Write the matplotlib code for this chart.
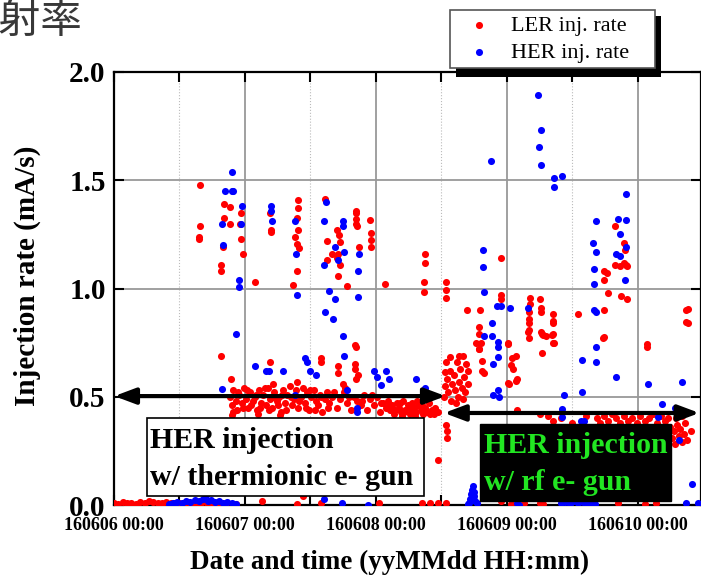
import datetime
import numpy as np
import matplotlib
matplotlib.use("Agg")
import matplotlib.pyplot as plt
import matplotlib.dates as mdates
from matplotlib.patches import Rectangle

plt.rcParams['font.family'] = ['Liberation Serif', 'DejaVu Serif']

# hours after 2016-06-06 00:00, injection rate in mA/s
ler_h = [0.0, 0.8, 1.6, 2.4, 3.2, 4.0, 4.8, 5.6, 6.4, 7.2, 8.0, 8.8, 9.6, 10.4, 11.2, 12.0,
         12.8, 13.6, 14.4, 15.2, 16.0, 17.0, 18.0, 19.0, 20.5,
         22.4, 27.1, 33.5, 34.7, 38.0, 48.5, 56.5, 58.0, 59.3, 60.8, 70.9, 72.7, 75.1, 78.0,
         78.6, 92.3, 97.3, 99.3,
         15.8, 15.7, 15.6, 15.6, 20.2, 21.3, 20.2, 21.3, 23.2, 23.1, 20.0, 23.3, 23.6, 19.7,
         19.7, 25.8, 28.6, 28.8, 28.8, 33.8, 33.8, 33.5, 33.8, 33.2, 33.6, 33.9, 33.6, 32.8,
         38.7, 39.0, 40.9, 41.3, 41.4, 39.9, 41.0, 40.9, 39.1, 41.4, 41.1, 42.7,
         44.3, 44.4, 44.3, 44.4, 44.5, 47.0, 47.1, 47.1, 47.1, 44.9, 49.7,
         19.7, 21.4, 28.6, 29.2, 33.6, 37.9, 37.9, 41.1, 41.1, 44.2, 44.2, 44.8, 44.3, 44.2,
         42.0, 42.3, 44.3, 21.6,
         57.0, 57.0, 56.9, 56.9, 60.9, 60.9, 60.9, 64.7, 67.1, 71.0, 71.0, 71.0, 66.9, 66.9,
         67.2, 66.9, 72.2, 72.3, 73.7, 73.0, 72.7, 73.1, 73.8, 72.4, 72.3, 76.2, 76.2, 78.0,
         78.2, 78.2, 76.0, 76.0, 76.0, 76.0, 76.0, 78.2, 78.6, 78.5, 80.5, 80.5, 80.5, 80.5,
         80.5, 85.1, 89.8, 89.8, 90.6, 89.9, 90.4, 89.9, 91.8, 93.5, 93.7, 93.4, 93.9, 91.9,
         92.8, 94.1, 93.0, 94.0, 97.7, 97.7, 104.9, 105.3, 104.9, 105.2,
         66.4, 66.9, 67.5, 67.5, 67.9, 73.7, 73.8, 75.9, 78.5, 79.1, 80.3, 80.7, 89.6, 78.0,
         # main band 160607-160608
         21.3, 21.6, 21.9, 22.3, 22.6, 23.0, 23.4, 23.8, 24.2, 24.6, 25.0, 25.4, 25.8, 26.2,
         26.6, 27.0, 27.4, 27.8, 28.2, 28.6, 29.0, 29.4, 29.8, 30.2, 30.6, 31.0, 31.4, 31.8,
         32.2, 32.6, 33.0, 33.4, 33.8, 34.2, 34.6, 35.0, 35.4, 35.8, 36.2, 36.6, 37.0, 37.4,
         37.8, 38.2, 38.6, 39.0, 39.4, 40.0, 40.8, 41.5, 42.2, 42.8, 43.4, 44.0, 44.6, 45.2,
         45.8, 46.4, 47.0, 47.6, 48.2, 48.8, 49.3, 49.8, 50.2, 50.6, 51.0, 51.4, 51.8, 52.2,
         52.6, 53.0, 53.4, 53.8, 54.2, 54.6, 55.0, 55.4, 55.8, 56.2, 56.6, 57.0, 57.4, 57.8,
         58.2, 58.6,
         21.8, 22.8, 23.6, 24.4, 25.2, 26.0, 26.8, 27.6, 28.4, 29.2, 30.0, 30.8, 31.6, 32.4,
         34.0, 35.2, 36.0, 36.8, 38.0, 39.2, 40.4, 43.0, 45.5, 47.3, 49.0, 50.4, 51.6, 52.4,
         53.2, 54.0, 54.8, 55.6, 56.4, 57.2, 58.0, 58.8, 59.4, 52.8, 55.2, 30.4, 26.4,
         # cluster around 160608 12:00
         60.4, 60.7, 61.0, 61.2, 61.5, 61.8, 62.0, 62.3, 62.5, 62.8, 63.0, 63.3, 63.5, 63.8,
         64.0, 64.2, 64.4, 64.6, 64.8, 60.9, 61.6, 63.3, 60.7, 64.9, 62.6, 63.9,
         60.8, 61.1, 61.1, 59.3,
         # band 160609 12:00 - 160610 12:00
         79.5, 80.5, 82.0, 84.0, 86.5, 88.5, 89.0, 89.8, 90.5, 91.3, 92.0, 92.8, 93.5, 94.2,
         95.0, 95.8, 96.5, 97.3, 98.0, 98.8, 99.5, 100.2, 101.0, 101.6,
         102.0, 102.3, 102.6, 102.9, 103.2, 103.5, 103.8, 104.1, 104.4, 104.7, 105.0, 105.7,
         103.0, 104.2]
ler_v = [0.010, 0.005, 0.012, 0.008, 0.010, 0.006, 0.015, 0.010, 0.020, 0.012, 0.008, 0.010,
         0.014, 0.009, 0.011, 0.007, 0.010, 0.012, 0.006, 0.010, 0.008, 0.010, 0.005, 0.008,
         0.010,
         0.005, 0.020, 0.005, 0.040, 0.010, 0.010, 0.010, 0.010, 0.010, 0.010, 0.020, 0.005,
         0.010, 0.010, 0.005, 0.010, 0.005, 0.010,
         1.48, 1.29, 1.24, 1.23, 1.39, 1.375, 1.325, 1.30, 1.35, 1.30, 1.19, 1.23, 1.16, 1.11,
         1.08, 1.03, 1.35, 1.27, 1.26, 1.41, 1.37, 1.325, 1.27, 1.24, 1.205, 1.185, 1.08, 1.016,
         1.415, 1.22, 1.27, 1.245, 1.215, 1.16, 1.16, 1.14, 1.13, 1.11, 1.06, 1.01,
         1.36, 1.35, 1.32, 1.30, 1.29, 1.315, 1.255, 1.225, 1.19, 1.19, 1.02,
         0.69, 0.58, 0.66, 0.56, 0.57, 0.68, 0.66, 0.64, 0.61, 0.65, 0.63, 0.60, 0.73, 0.74,
         0.56, 0.54, 0.58, 0.415,
         1.16, 1.12, 1.03, 0.985, 1.03, 0.995, 0.955, 0.90, 0.90, 1.14, 0.97, 0.95, 0.82, 0.79,
         0.75, 0.72, 0.75, 0.745, 0.69, 0.68, 0.645, 0.63, 0.58, 0.56, 0.565, 0.955, 0.93, 0.95,
         0.91, 0.89, 0.89, 0.86, 0.84, 0.81, 0.77, 0.80, 0.785, 0.70, 0.88, 0.85, 0.84, 0.79,
         0.75, 0.88, 0.90, 0.775, 0.98, 1.08, 1.07, 1.04, 1.29, 1.21, 1.18, 1.12, 1.11, 1.11,
         1.105, 1.105, 0.965, 0.95, 0.745, 0.73, 0.90, 0.905, 0.845, 0.84,
         0.75, 0.72, 0.665, 0.62, 0.61, 0.575, 0.44, 0.80, 0.79, 0.78, 0.785, 0.75, 0.77, 0.42,
         0.50, 0.46, 0.53, 0.48, 0.44, 0.51, 0.47, 0.54, 0.49, 0.45, 0.52, 0.48, 0.50, 0.44,
         0.53, 0.47, 0.51, 0.46, 0.54, 0.49, 0.45, 0.52, 0.48, 0.50, 0.43, 0.53, 0.47, 0.51,
         0.55, 0.46, 0.49, 0.53, 0.45, 0.50, 0.54, 0.47, 0.52, 0.44, 0.50, 0.53, 0.48, 0.46,
         0.51, 0.43, 0.49, 0.52, 0.47, 0.50, 0.45, 0.49, 0.52, 0.47, 0.44, 0.50, 0.48, 0.46,
         0.51, 0.44, 0.49, 0.46, 0.50, 0.43, 0.47, 0.45, 0.48, 0.44, 0.46, 0.42, 0.47, 0.45,
         0.43, 0.48, 0.44, 0.46, 0.42, 0.47, 0.45, 0.43, 0.46, 0.44, 0.42, 0.45, 0.43, 0.47,
         0.44, 0.42,
         0.43, 0.52, 0.45, 0.53, 0.46, 0.51, 0.45, 0.54, 0.44, 0.50, 0.46, 0.51, 0.44, 0.50,
         0.48, 0.45, 0.53, 0.44, 0.50, 0.45, 0.52, 0.50, 0.48, 0.51, 0.47, 0.46, 0.44, 0.47,
         0.43, 0.45, 0.43, 0.48, 0.46, 0.44, 0.42, 0.45, 0.43, 0.41, 0.41, 0.415, 0.42,
         0.50, 0.55, 0.58, 0.52, 0.62, 0.48, 0.56, 0.60, 0.53, 0.66, 0.50, 0.57, 0.63, 0.54,
         0.69, 0.59, 0.52, 0.65, 0.56, 0.66, 0.685, 0.69, 0.615, 0.62, 0.47, 0.49,
         0.37, 0.34, 0.31, 0.21,
         0.41, 0.39, 0.40, 0.38, 0.41, 0.40, 0.38, 0.41, 0.39, 0.42, 0.40, 0.38, 0.41, 0.39,
         0.40, 0.38, 0.41, 0.39, 0.40, 0.42, 0.38, 0.41, 0.39, 0.40,
         0.36, 0.31, 0.34, 0.28, 0.37, 0.32, 0.35, 0.29, 0.33, 0.38, 0.30, 0.34,
         0.40, 0.41]

her_h = [10.0, 10.8, 11.6, 12.4, 13.2, 14.0, 14.8, 15.6, 16.3, 16.8, 16.8, 17.2, 17.8, 18.5,
         19.2, 20.0, 20.8, 21.6, 22.4,
         38.5, 41.8, 46.6, 73.9, 74.2,
         64.8, 65.0, 65.3, 65.5, 65.6, 65.8, 65.9, 66.0, 66.2, 66.5,
         81.9, 82.7, 83.5, 84.3, 85.1, 85.9, 86.7, 87.5, 88.1, 104.9, 107.1, 105.9,
         21.7, 20.3, 21.7, 21.9, 23.4, 19.8, 23.2, 20.0, 23.0, 23.0, 22.4,
         28.7, 28.7, 29.0, 33.2, 33.3, 33.5,
         38.8, 38.5, 42.0, 42.0, 40.6, 42.2, 41.0, 38.5, 44.9, 44.8, 39.5, 40.6, 44.7, 38.6,
         40.1, 41.9, 42.2,
         25.8, 27.8, 28.5, 30.9, 35.1, 35.4, 35.9, 37.1, 47.6, 49.8, 48.2, 50.4, 48.9, 19.8,
         42.7, 33.2, 44.6, 44.6, 55.3, 57.0,
         77.8, 78.2, 77.9, 78.2, 80.6, 82.1, 80.6, 69.1, 93.8, 92.3, 93.9, 88.4, 92.8, 87.8,
         88.4, 93.8, 92.0, 92.8, 88.0, 87.9, 93.7, 67.7, 67.7, 67.8, 70.2, 71.0, 72.5, 75.9,
         87.9, 88.3, 69.3, 67.8, 69.3, 70.4, 70.4, 70.3, 69.4, 88.3, 88.3, 85.7, 92.0, 97.9,
         104.1,
         69.4, 70.4, 70.5, 82.4, 82.1, 82.2, 85.7, 85.6, 86.2, 99.7, 100.4, 102.8, 103.5]
her_v = [0.005, 0.010, 0.015, 0.010, 0.020, 0.015, 0.025, 0.020, 0.030, 0.045, 0.060, 0.020,
         0.025, 0.015, 0.020, 0.010, 0.015, 0.008, 0.005,
         0.030, 0.010, 0.000, 0.010, 0.000,
         0.005, 0.010, 0.030, 0.050, 0.070, 0.090, 0.060, 0.040, 0.020, 0.010,
         0.010, 0.015, 0.005, 0.020, 0.010, 0.015, 0.005, 0.010, 0.005, 0.010, 0.010, 0.097,
         1.54, 1.45, 1.45, 1.45, 1.38, 1.30, 1.30, 1.20, 1.04, 1.005, 0.79,
         1.38, 1.36, 1.31, 1.31, 1.16, 0.97,
         1.40, 1.31, 1.31, 1.29, 1.19, 1.17, 1.13, 1.11, 1.16, 1.08, 0.99, 0.95, 0.96, 0.89,
         0.86, 0.78, 0.69,
         0.64, 0.62, 0.62, 0.62, 0.68, 0.66, 0.62, 0.60, 0.62, 0.62, 0.59, 0.58, 0.555, 0.535,
         0.53, 0.51, 0.45, 0.43, 0.58, 0.54,
         1.895, 1.73, 1.655, 1.57, 1.51, 1.52, 1.47, 1.59, 1.435, 1.32, 1.315, 1.31, 1.25, 1.21,
         1.17, 1.19, 1.16, 1.15, 1.09, 1.02, 1.04, 1.18, 1.10, 0.985, 0.92, 0.92, 0.91, 0.91,
         0.90, 0.89, 0.84, 0.78, 0.78, 0.755, 0.73, 0.685, 0.65, 0.73, 0.66, 0.67, 0.59, 0.56,
         0.57,
         0.51, 0.53, 0.50, 0.51, 0.445, 0.405, 0.52, 0.39, 0.39, 0.405, 0.465, 0.45, 0.30]

start = mdates.date2num(datetime.datetime(2016, 6, 6))
ler_t = start + np.array(ler_h) / 24.0
her_t = start + np.array(her_h) / 24.0

fig = plt.figure(figsize=(7.01, 5.76), dpi=100)
ax = fig.add_axes([114 / 701, 71 / 576, 587 / 701, 433 / 576])

ax.scatter(ler_t, ler_v, s=26, color='#ff0000', linewidths=0, zorder=3, label='LER inj. rate')
ax.scatter(her_t, her_v, s=26, color='#0000ff', linewidths=0, zorder=3, label='HER inj. rate')

ax.set_xlim(start, start + 107.6 / 24.0)
ax.set_ylim(0, 2.0)
ax.set_yticks([0.0, 0.5, 1.0, 1.5, 2.0])
ax.yaxis.set_major_formatter(plt.FormatStrFormatter('%.1f'))
ax.xaxis.set_major_locator(mdates.DayLocator())
ax.xaxis.set_minor_locator(mdates.HourLocator(byhour=[12]))
ax.xaxis.set_major_formatter(mdates.DateFormatter('%y%m%d %H:%M'))

ax.grid(True, which='major', color='#999999', lw=1.3, zorder=0)
ax.grid(True, which='minor', axis='x', color='#bbbbbb', lw=0.8, ls=':', zorder=0)
ax.set_axisbelow(True)
for sp in ax.spines.values():
    sp.set_linewidth(1.6)
ax.tick_params(which='both', direction='in', length=7, width=1.5, top=True, right=True)
ax.tick_params(axis='y', labelsize=21, pad=6)
ax.tick_params(axis='x', labelsize=13, pad=9)
for lab in ax.get_xticklabels() + ax.get_yticklabels():
    lab.set_fontweight('bold')

ax.set_xlabel('Date and time (yyMMdd HH:mm)', fontsize=19.5, fontweight='bold')
ax.set_ylabel('Injection rate (mA/s)', fontsize=21, fontweight='bold')
ax.xaxis.set_label_coords(0.47, -0.103)
ax.yaxis.set_label_coords(-0.125, 0.529)

# period arrows
ax.annotate('', xy=(start + 0.05 / 24, 0.503), xytext=(start + 60.8 / 24, 0.503),
            arrowprops=dict(arrowstyle='<|-|>,head_length=0.8,head_width=0.3',
                            mutation_scale=16, lw=3, color='black', shrinkA=0, shrinkB=0),
            zorder=5)
ax.annotate('', xy=(start + 60.5 / 24, 0.425), xytext=(start + 107.3 / 24, 0.425),
            arrowprops=dict(arrowstyle='<|-|>,head_length=0.8,head_width=0.3',
                            mutation_scale=16, lw=3, color='black', shrinkA=0, shrinkB=0),
            zorder=5)

# labels for both periods
ax.add_patch(Rectangle((0.0563, 0.0208), 0.471, 0.180, transform=ax.transAxes,
                       facecolor='white', edgecolor='black', lw=1.2, zorder=6))
ax.text(0.0614, 0.1316, 'HER injection', transform=ax.transAxes, fontsize=21.5,
        fontweight='bold', va='baseline', zorder=7)
ax.text(0.0614, 0.0462, 'w/ thermionic e- gun', transform=ax.transAxes, fontsize=21.5,
        fontweight='bold', va='baseline', zorder=7)
ax.add_patch(Rectangle((0.6229, 0.0092), 0.3259, 0.1779, transform=ax.transAxes,
                       facecolor='black', edgecolor='black', lw=1.0, zorder=6))
ax.text(0.6297, 0.1201, 'HER injection', transform=ax.transAxes, fontsize=21.5,
        fontweight='bold', va='baseline', color='#22e622', zorder=7)
ax.text(0.6297, 0.0346, 'w/ rf e- gun', transform=ax.transAxes, fontsize=21.5,
        fontweight='bold', va='baseline', color='#22e622', zorder=7)

# legend with solid black drop shadow
fig.patches.append(Rectangle((456 / 701, 1 - 77 / 576), 205 / 701, 61 / 576,
                             transform=fig.transFigure, facecolor='black', zorder=4))
leg = fig.legend(loc='upper left', mode='expand',
                 bbox_to_anchor=(450 / 701, 1 - 71 / 576, 205 / 701, 61 / 576),
                 borderaxespad=0, fontsize=16, fancybox=False, framealpha=1,
                 edgecolor='#555555', handletextpad=0.38, labelspacing=0.27,
                 borderpad=0.25, handlelength=2.1, markerscale=1.0)
leg.get_frame().set_linewidth(1.2)
leg.set_zorder(5)

fig.text(82 / 701, 1 - 21 / 576, '入射率', ha='right', va='center', fontsize=30,
         color='#383838', family=['Noto Sans CJK JP', 'DejaVu Sans'])

fig.savefig('out.png', dpi=100)
